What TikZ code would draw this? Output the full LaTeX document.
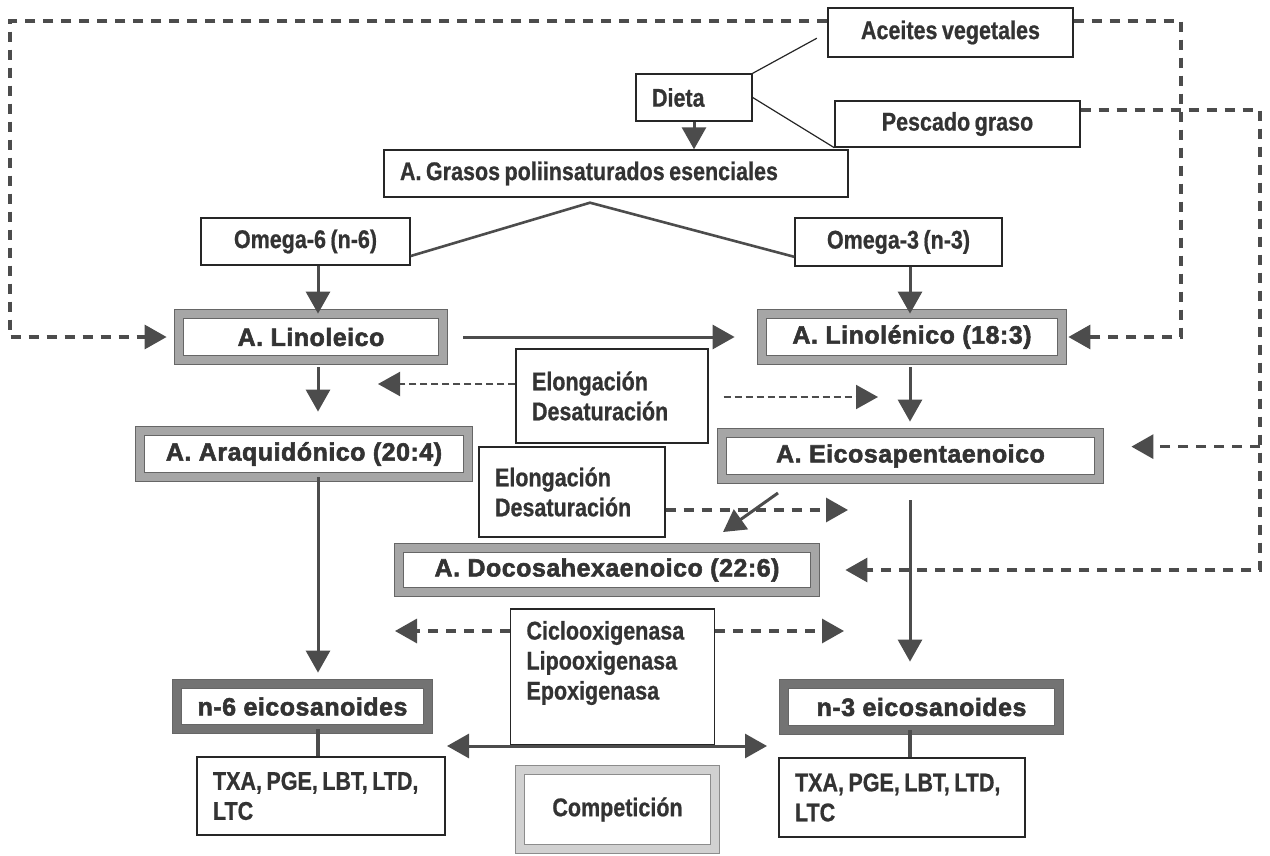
\documentclass[tikz,border=0pt]{standalone}
\usepackage{fontspec}
\setmainfont{Liberation Sans}
\newfontfamily\boxfont[FakeStretch=0.84,FakeBold=0.7,WordSpace=0.75]{Liberation Sans}
\newfontfamily\acidfont[FakeBold=2.2,LetterSpace=2.0]{Liberation Sans}
\usetikzlibrary{arrows.meta,calc}
\tikzset{>={Triangle[width=12pt,length=11pt]}}
\tikzset{
  txtbox/.style={draw=black!85,line width=0.7pt,fill=white,text=black!80,
    font=\boxfont\bfseries\fontsize{12.8}{15}\selectfont,inner sep=0pt},
  leftbox/.style={txtbox,align=flush left,inner xsep=8pt},
  acid/.style={draw=black!60,line width=0.6pt,double=black!35,double distance=4pt,
    fill=white,text=black!80,font=\acidfont\bfseries\fontsize{12.5}{15}\selectfont,inner sep=0pt},
  acidDark/.style={acid,double=black!55},
  acidLight/.style={acid,draw=black!45,double=black!18,text=black!80,
    font=\boxfont\bfseries\fontsize{12.8}{15}\selectfont},
  link/.style={line width=0.6pt,draw=black!85},
  branch/.style={line width=1.3pt,draw=black!70},
  flow/.style={->,line width=1.5pt,draw=black!70},
  feed/.style={->,line width=1.6pt,draw=black!70,dash pattern=on 5pt off 4pt},
  feedthin/.style={->,line width=1pt,draw=black!70,dash pattern=on 3.5pt off 2pt},
}
\begin{document}
\begin{tikzpicture}[x=0.5pt,y=-0.5pt]
  \useasboundingbox (0,0) rectangle (1270,856);

  % fuentes
  \node[txtbox,minimum width=122.5pt,minimum height=24.5pt] (aceites) at (950.5,32.5) {Aceites vegetales};
  \node[leftbox,text width=42pt,minimum height=23.5pt] (dieta) at (694,97.5) {Dieta};
  \node[txtbox,minimum width=122.5pt,minimum height=23pt] (pescado) at (957.5,124) {Pescado graso};
  \node[leftbox,text width=216pt,minimum height=23.5pt] (grasos) at (616,173.5) {A. Grasos poliinsaturados esenciales};
  \node[txtbox,minimum width=104.5pt,minimum height=23.5pt] (omegaSix) at (305.5,241.5) {Omega-6 (n-6)};
  \node[txtbox,minimum width=103.5pt,minimum height=24pt] (omegaThree) at (898.5,242) {Omega-3 (n-3)};

  % acidos grasos
  \node[acid,minimum width=131.8pt,minimum height=22.8pt] (linoleico) at (311,337) {A. Linoleico};
  \node[acid,minimum width=149.8pt,minimum height=22.8pt] (linolenico) at (912,337) {A. Linolénico (18:3)};
  \node[acid,minimum width=163.8pt,minimum height=22.8pt] (araq) at (304,454) {A. Araquidónico (20:4)};
  \node[acid,minimum width=188.3pt,minimum height=22.8pt] (eicosa) at (910.5,456) {A. Eicosapentaenoico};
  \node[acid,minimum width=207.8pt,minimum height=21.8pt] (docosa) at (607,570) {A. Docosahexaenoico (22:6)};

  % enzimas
  \node[leftbox,text width=80pt,minimum height=47pt] (elongA) at (612,396) {Elongación\\Desaturación};
  \node[leftbox,text width=77pt,minimum height=45pt] (elongB) at (572,492) {Elongación\\Desaturación};
  \node[leftbox,inner ysep=6pt] (ciclo) at (612.5,677)
    {\parbox[c][56pt][t]{86pt}{Ciclooxigenasa\\Lipooxigenasa\\Epoxigenasa}};

  % eicosanoides
  \node[acidDark,minimum width=125.3pt,minimum height=22.3pt] (nSix) at (302.5,706.5) {n-6 eicosanoides};
  \node[acidDark,minimum width=137.3pt,minimum height=22.8pt] (nThree) at (921.5,707) {n-3 eicosanoides};
  \node[leftbox,text width=108pt,minimum height=39pt] (txaSix) at (321,796) {\mbox{TXA, PGE, LBT, LTD,}\\LTC};
  \node[leftbox,text width=107pt,minimum height=39.5pt] (txaThree) at (902,797.5) {\mbox{TXA, PGE, LBT, LTD,}\\LTC};
  \node[acidLight,minimum width=97.3pt,minimum height=39.3pt] (compet) at (617.5,809.5) {Competición};

  \coordinate (colSix) at (318,0);
  \coordinate (colThree) at (910,0);
  \coordinate (apex) at ($(grasos.south)+(-26,5)$);

  % dieta
  \draw[link,shorten >=6pt] (dieta.north east) -- (aceites.west);
  \draw[link] (dieta.east) -- (pescado.south west);
  \draw[flow] (dieta.south) -- (dieta.south |- grasos.north);
  \draw[branch] ($(omegaSix.south east)!0.2!(omegaSix.north east)$) -- (apex)
    -- ($(omegaThree.south west)!0.2!(omegaThree.north west)$);

  % omega-6 / omega-3
  \draw[flow] (omegaSix.south -| colSix) -- (linoleico.north -| colSix);
  \draw[flow] (omegaThree.south -| colThree) -- (linolenico.north -| colThree);
  \draw[flow,shorten <=10pt,shorten >=13.5pt] (linoleico.east) -- (linolenico.west);
  \draw[flow,shorten <=3.5pt,shorten >=9.5pt] (linoleico.south -| colSix) -- (araq.north -| colSix);
  \draw[flow,shorten <=3.5pt,shorten >=5.5pt] (linolenico.south -| colThree) -- (eicosa.north -| colThree);
  \draw[flow,shorten >=5.5pt] (araq.south -| colSix) -- (nSix.north -| colSix);
  \draw[flow,shorten <=10.5pt,shorten >=11pt] (eicosa.south -| colThree) -- (nThree.north -| colThree);
  \draw[branch,line width=1.6pt] (nSix.south -| colSix) -- (txaSix.north -| colSix);
  \draw[branch,line width=1.6pt] (nThree.south -| colThree) -- (txaThree.north -| colThree);

  % elongacion / desaturacion
  \coordinate (tipElA) at (378,384);
  \coordinate (tipElB) at (878,397);
  \coordinate (tipElC) at (848,510);
  \coordinate (epaOut) at (778,493);
  \coordinate (dhaIn) at (723,532);
  \draw[feedthin] (tipElA -| elongA.west) -- (tipElA);
  \draw[feedthin,shorten <=7.5pt] (elongA.east |- tipElB) -- (tipElB);
  \draw[feed] (elongB.east |- tipElC) -- (tipElC);
  \draw[flow] (epaOut) -- (dhaIn);

  % enzimas -> eicosanoides
  \coordinate (cycL) at (395,631);
  \coordinate (cycR) at (844,631);
  \coordinate (compL) at (447,746);
  \coordinate (compR) at (767,746);
  \draw[feed] (cycL -| ciclo.west) -- (cycL);
  \draw[feed] (cycR -| ciclo.east) -- (cycR);
  \draw[flow,<->] (compL) -- (compR);

  % lazos discontinuos
  \coordinate (cornerTL) at (10,21);
  \coordinate (cornerTR) at (1181,21);
  \coordinate (cornerPR) at (1260,110);
  \draw[feed,shorten >=6pt] (aceites.west |- cornerTL) -- (cornerTL) |- (linoleico.west);
  \draw[feed,shorten >=3pt] (aceites.east |- cornerTR) -- (cornerTR) |- (linolenico.east);
  \draw[feed,shorten >=15pt] (pescado.east |- cornerPR) -- (cornerPR) |- (docosa.east);
  \draw[feed,shorten >=16pt] (cornerPR |- {$(eicosa.north east)!0.3!(eicosa.south east)$})
    -- ($(eicosa.north east)!0.3!(eicosa.south east)$);

\end{tikzpicture}
\end{document}
